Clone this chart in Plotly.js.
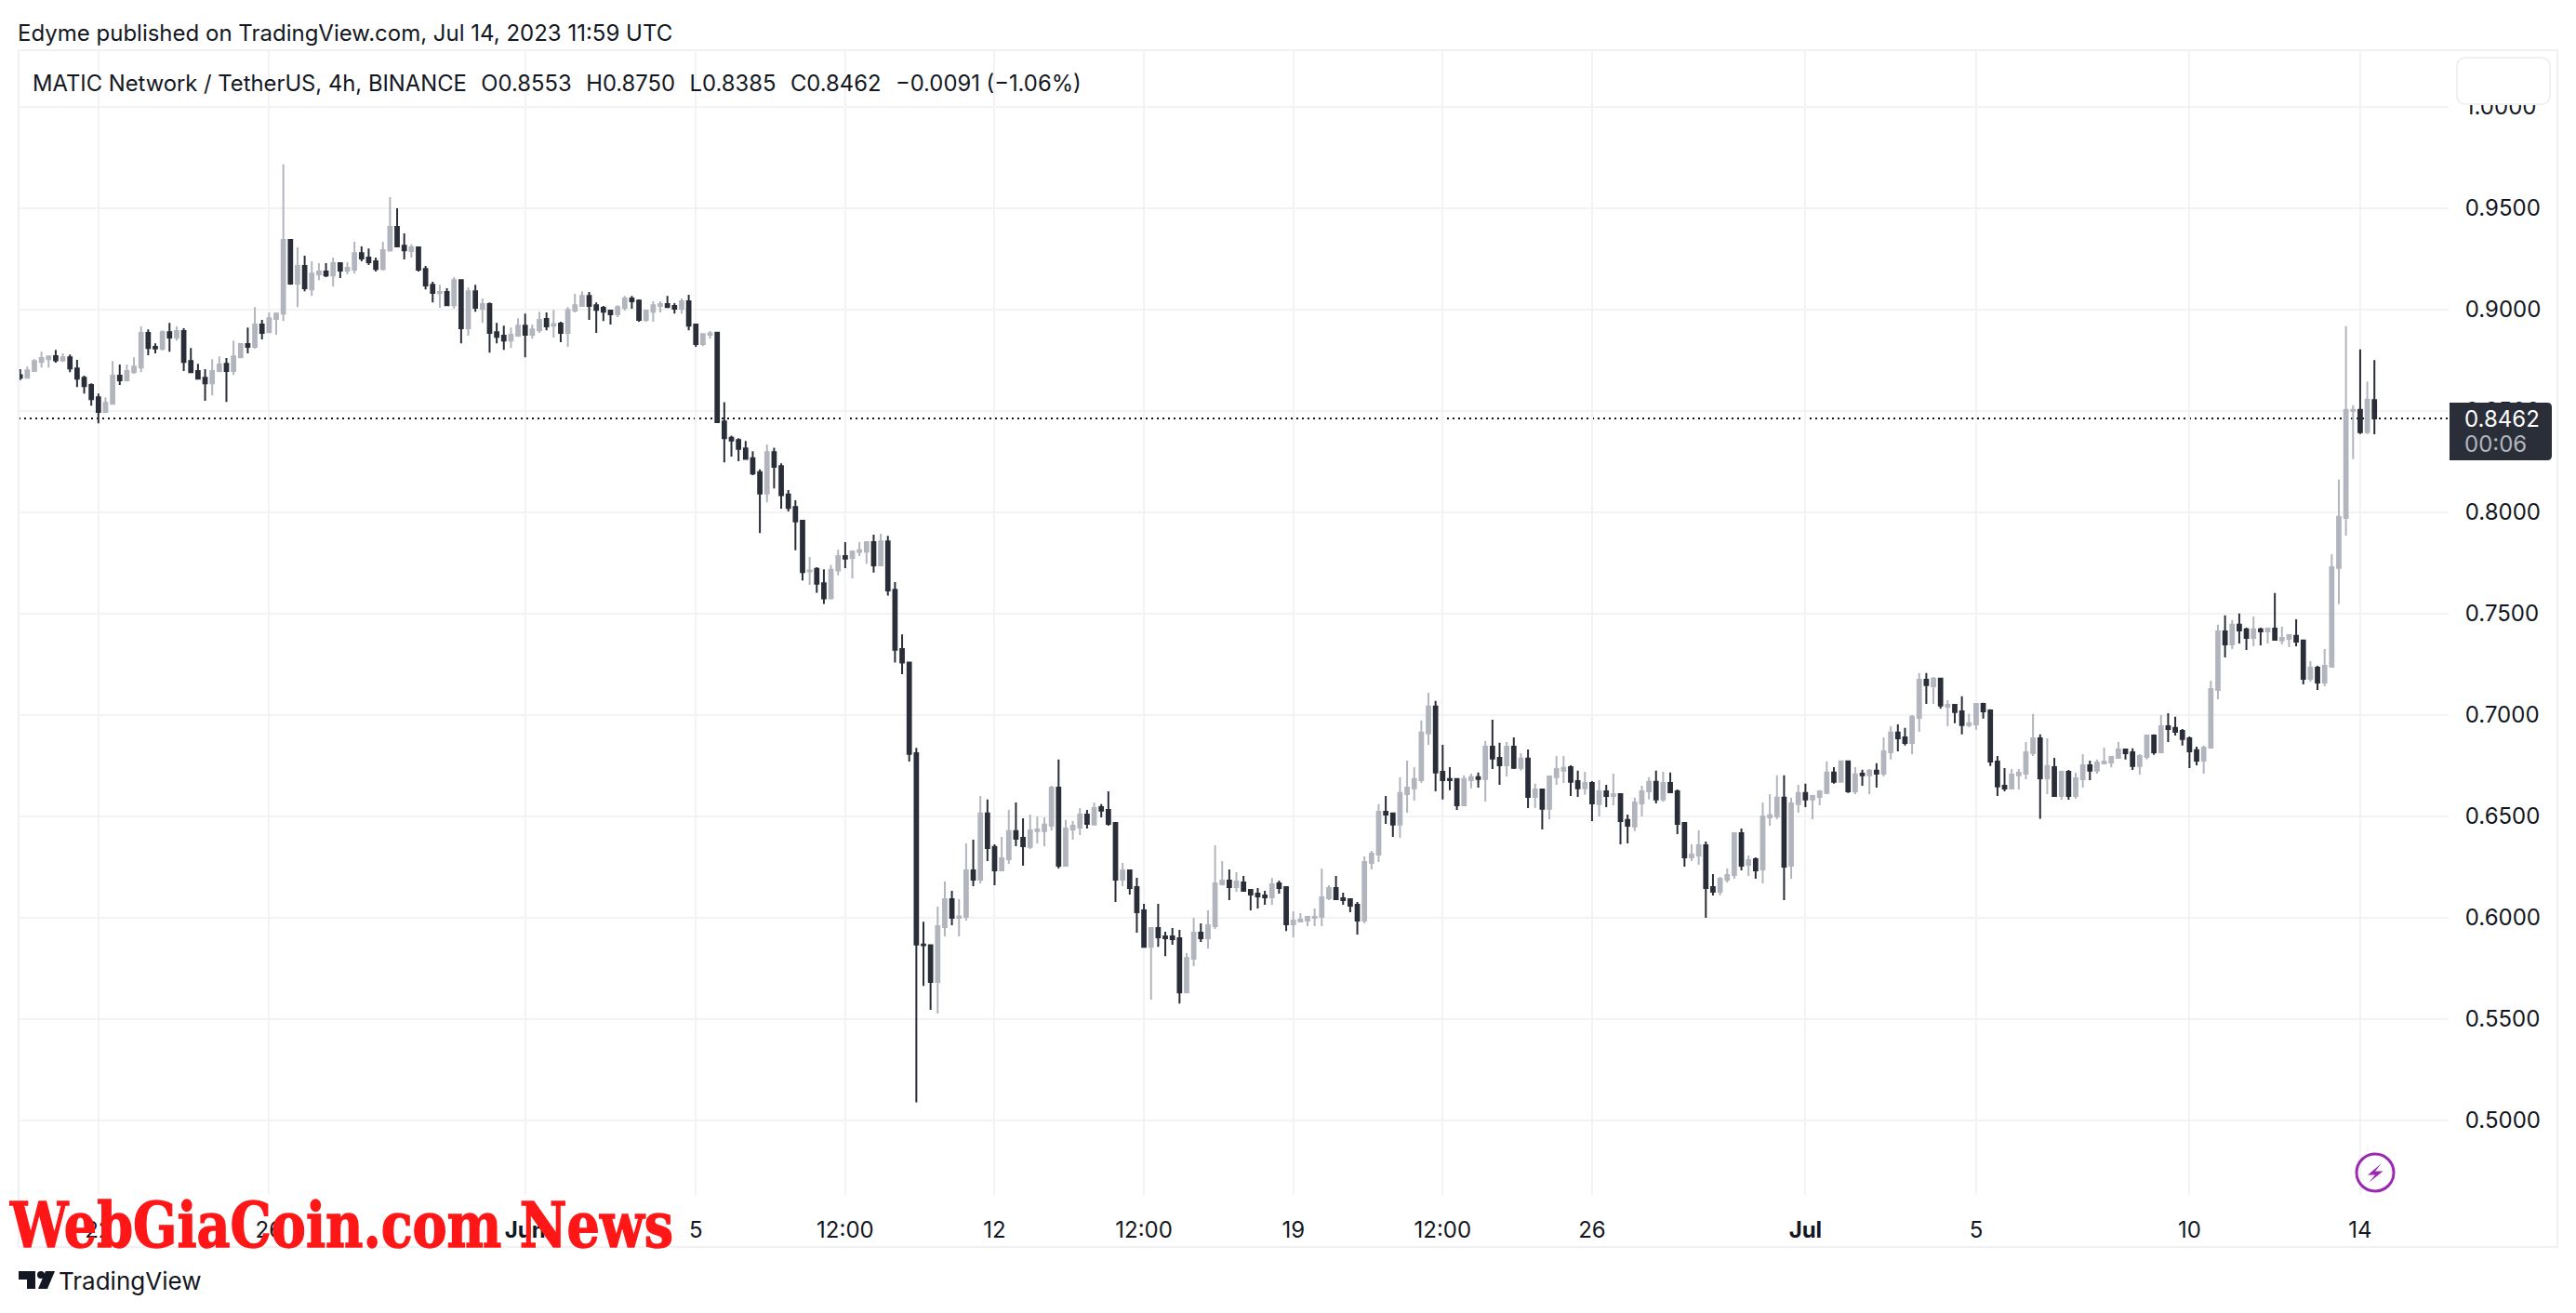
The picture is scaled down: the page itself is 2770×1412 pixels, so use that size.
<!DOCTYPE html>
<html>
<head>
<meta charset="utf-8">
<title>MATIC/USDT 4h</title>
<script src="https://cdn.plot.ly/plotly-3.0.1.min.js"></script>
<style>html,body{margin:0;padding:0;background:#fff}#chart{width:2770px;height:1412px}</style>
</head>
<body>
<div id="chart"></div>
<script>
const opens = [
.8676,.8663,.8696,.8741,.8755,.8770,.8749,.8764,.8709,.8663,
.8627,.8567,.8494,.8535,.8673,.8650,.8691,.8714,.8884,.8816,
.8806,.8888,.8861,.8893,.8746,.8696,.8663,.8636,.8696,.8732,
.8696,.8764,.8829,.8815,.8925,.8888,.8953,.8980,.9343,.9127,
.9214,.9099,.9173,.9187,.9168,.9228,.9191,.9196,.9278,.9256,
.9237,.9200,.9290,.9407,.9314,.9288,.9306,.9200,.9122,.9080,
.9086,.9021,.9145,.8907,.9090,.9003,.9026,.8888,.8870,.8847,
.8870,.8920,.8875,.8897,.8953,.8920,.8930,.8884,.8994,.9017,
.9067,.9021,.9008,.8994,.8976,.9008,.9054,.9044,.8948,.8989,
.9017,.9026,.9017,.9003,.9040,.8925,.8829,.8875,.8885,.8447,
.8367,.8356,.8315,.8266,.8197,.8092,.8296,.8227,.8087,.8026,
.7958,.7708,.7721,.7650,.7575,.7713,.7784,.7774,.7804,.7806,
.7853,.7738,.7856,.7617,.7325,.7259,.6811,.5868,.5865,.5683,
.5954,.6091,.6000,.6004,.6234,.6188,.6514,.6349,.6234,.6289,
.6427,.6394,.6349,.6427,.6427,.6454,.6642,.6257,.6436,.6445,
.6509,.6459,.6546,.6532,.6468,.6188,.6234,.6151,.6036,.5857,
.5949,.5908,.5908,.5899,.5632,.5798,.5926,.5899,.5958,.6165,
.6183,.6151,.6174,.6137,.6119,.6110,.6101,.6170,.6151,.5968,
.5981,.5986,.6000,.6004,.6096,.6147,.6096,.6091,.6064,.5986,
.6270,.6312,.6523,.6514,.6459,.6610,.6638,.6679,.6909,.7042,
.6720,.6684,.6684,.6555,.6679,.6693,.6684,.6844,.6789,.6752,
.6844,.6739,.6785,.6596,.6633,.6537,.6693,.6725,.6743,.6674,
.6638,.6665,.6560,.6624,.6601,.6610,.6482,.6450,.6564,.6624,
.6670,.6583,.6665,.6624,.6468,.6298,.6307,.6358,.6151,.6128,
.6188,.6211,.6417,.6261,.6289,.6238,.6495,.6500,.6592,.6257,
.6560,.6615,.6583,.6596,.6615,.6716,.6670,.6771,.6624,.6711,
.6702,.6725,.6711,.6816,.6913,.6890,.6862,.6986,.7174,.7142,
.7179,.7041,.7050,.7018,.6950,.6954,.7055,.7023,.6770,.6651,
.6637,.6702,.6711,.6812,.6885,.6688,.6743,.6601,.6720,.6601,
.6683,.6752,.6725,.6761,.6766,.6789,.6830,.6816,.6748,.6793,
.6899,.6816,.6945,.6936,.6922,.6885,.6826,.6775,.6839,.7123,
.7412,.7348,.7445,.7422,.7380,.7422,.7412,.7426,.7367,.7376,
.7390,.7367,.7178,.7233,.7160,.7238,.7725,.7972,.8500,.8505,.8395,.8553];
const highs = [
.8706,.8718,.8755,.8792,.8770,.8801,.8783,.8778,.8751,.8673,
.8636,.8585,.8567,.8746,.8728,.8728,.8764,.8916,.8902,.8833,
.8897,.8934,.8916,.8907,.8810,.8732,.8705,.8755,.8769,.8760,
.8847,.8833,.8911,.9012,.8948,.8985,.8985,.9715,.9343,.9306,
.9265,.9237,.9228,.9228,.9256,.9233,.9233,.9334,.9311,.9301,
.9256,.9334,.9554,.9499,.9375,.9321,.9311,.9214,.9136,.9122,
.9104,.9159,.9145,.9109,.9122,.9054,.9035,.8934,.8920,.8911,
.8957,.8980,.8925,.8989,.8985,.8998,.8939,.9012,.9077,.9090,
.9086,.9035,.9017,.8998,.9021,.9067,.9067,.9049,.8998,.9040,
.9040,.9067,.9031,.9054,.9072,.8925,.8879,.8893,.8887,.8543,
.8378,.8365,.8351,.8301,.8211,.8334,.8318,.8241,.8109,.8059,
.7960,.7779,.7729,.7718,.7740,.7815,.7853,.7812,.7853,.7853,
.7889,.7894,.7883,.7655,.7397,.7262,.6838,.5980,.5865,.6055,
.6179,.6133,.6091,.6367,.6385,.6601,.6583,.6362,.6399,.6532,
.6569,.6491,.6509,.6500,.6495,.6651,.6780,.6482,.6477,.6541,
.6532,.6569,.6560,.6624,.6472,.6270,.6234,.6197,.6069,.5954,
.6069,.5931,.5949,.5940,.5825,.6000,.5972,.6036,.6358,.6280,
.6238,.6225,.6206,.6142,.6147,.6133,.6197,.6183,.6156,.6032,
.6023,.6004,.6046,.6243,.6160,.6206,.6124,.6091,.6078,.6303,
.6330,.6560,.6601,.6514,.6693,.6775,.6743,.6973,.7110,.7069,
.6853,.6743,.6684,.6702,.6711,.6716,.6872,.6977,.6863,.6867,
.6890,.6812,.6830,.6661,.6633,.6697,.6798,.6798,.6752,.6725,
.6720,.6674,.6679,.6656,.6711,.6610,.6509,.6592,.6651,.6693,
.6725,.6720,.6716,.6633,.6468,.6362,.6431,.6376,.6215,.6202,
.6243,.6417,.6440,.6307,.6298,.6569,.6610,.6702,.6702,.6592,
.6656,.6661,.6606,.6629,.6771,.6743,.6775,.6775,.6743,.6730,
.6734,.6762,.6890,.6945,.6954,.6936,.7000,.7207,.7207,.7188,
.7179,.7073,.7055,.7092,.7005,.7055,.7060,.7028,.6798,.6738,
.6734,.6734,.6867,.7005,.6904,.6885,.6789,.6725,.6729,.6715,
.6807,.6775,.6780,.6839,.6798,.6867,.6830,.6835,.6807,.6899,
.6904,.7000,.7009,.6991,.6931,.6894,.6844,.6849,.7169,.7445,
.7491,.7468,.7500,.7431,.7486,.7431,.7431,.7601,.7435,.7399,
.7472,.7367,.7266,.7243,.7325,.7793,.8161,.8918,.8528,.8803,.8643,.8750];
const lows = [
.8651,.8663,.8696,.8714,.8714,.8737,.8741,.8691,.8617,.8585,
.8526,.8438,.8494,.8535,.8627,.8645,.8682,.8691,.8774,.8783,
.8797,.8792,.8847,.8696,.8691,.8654,.8549,.8576,.8691,.8544,
.8677,.8764,.8783,.8806,.8852,.8888,.8875,.8943,.9122,.9012,
.9090,.9067,.9145,.9159,.9113,.9155,.9173,.9177,.9237,.9219,
.9187,.9191,.9288,.9306,.9247,.9256,.9187,.9099,.9035,.9008,
.9021,.9003,.8833,.8870,.8989,.8934,.8787,.8833,.8801,.8810,
.8865,.8764,.8856,.8884,.8897,.8861,.8838,.8815,.8985,.9017,
.8948,.8884,.8943,.8925,.8962,.8994,.9003,.8939,.8939,.8939,
.8985,.9012,.8980,.8980,.8897,.8815,.8819,.8856,.8439,.8246,
.8274,.8252,.8263,.8183,.7897,.8048,.8117,.8018,.8004,.7812,
.7663,.7641,.7603,.7548,.7575,.7688,.7724,.7674,.7784,.7746,
.7702,.7738,.7589,.7259,.7201,.6770,.5089,.5664,.5546,.5527,
.5908,.5963,.5908,.5986,.6156,.6170,.6280,.6160,.6234,.6266,
.6353,.6257,.6339,.6367,.6353,.6431,.6243,.6257,.6385,.6408,
.6440,.6459,.6495,.6454,.6078,.6156,.6114,.5926,.5857,.5596,
.5857,.5811,.5867,.5577,.5632,.5761,.5880,.5848,.5945,.6160,
.6087,.6128,.6128,.6036,.6046,.6064,.6064,.6119,.5935,.5903,
.5977,.5958,.5958,.5958,.6087,.6091,.6064,.6027,.5917,.5972,
.6238,.6275,.6463,.6399,.6394,.6518,.6578,.6665,.6853,.6624,
.6583,.6629,.6532,.6555,.6638,.6642,.6573,.6734,.6656,.6697,
.6734,.6725,.6541,.6541,.6436,.6486,.6656,.6665,.6601,.6596,
.6606,.6477,.6500,.6546,.6555,.6362,.6367,.6427,.6500,.6583,
.6564,.6573,.6619,.6413,.6252,.6280,.6261,.6000,.6110,.6110,
.6174,.6192,.6234,.6206,.6192,.6170,.6454,.6486,.6087,.6192,
.6518,.6546,.6486,.6555,.6610,.6661,.6670,.6615,.6610,.6651,
.6610,.6642,.6697,.6780,.6821,.6849,.6807,.6917,.7055,.7055,
.7032,.6945,.6959,.6904,.6940,.6927,.6982,.6748,.6601,.6624,
.6633,.6633,.6683,.6798,.6488,.6610,.6601,.6582,.6582,.6587,
.6642,.6679,.6711,.6757,.6743,.6784,.6780,.6729,.6706,.6780,
.6803,.6812,.6867,.6899,.6849,.6738,.6752,.6711,.6839,.7077,
.7284,.7325,.7353,.7321,.7339,.7344,.7353,.7371,.7348,.7334,
.7339,.7151,.7165,.7123,.7142,.7238,.7546,.7885,.8262,.8386,.8386,.8385];
const closes = [
.8663,.8700,.8746,.8761,.8769,.8749,.8764,.8709,.8659,.8622,
.8558,.8494,.8539,.8673,.8650,.8696,.8718,.8884,.8810,.8807,
.8888,.8861,.8893,.8741,.8691,.8659,.8636,.8696,.8728,.8696,
.8769,.8829,.8815,.8925,.8884,.8957,.8980,.9343,.9127,.9214,
.9104,.9177,.9187,.9168,.9228,.9191,.9205,.9278,.9251,.9233,
.9200,.9292,.9407,.9311,.9291,.9306,.9196,.9118,.9081,.9086,
.9021,.9145,.8907,.9090,.9008,.9026,.8884,.8865,.8847,.8875,
.8920,.8875,.8902,.8948,.8916,.8928,.8884,.8998,.9021,.9067,
.9017,.8998,.8989,.8976,.9012,.9054,.9040,.8948,.8994,.9021,
.9026,.9012,.9003,.9040,.8920,.8829,.8879,.8882,.8444,.8365,
.8354,.8312,.8263,.8191,.8092,.8296,.8224,.8084,.8021,.7955,
.7705,.7713,.7647,.7575,.7716,.7784,.7771,.7806,.7812,.7853,
.7738,.7856,.7614,.7322,.7259,.6808,.5868,.5865,.5683,.5958,
.6091,.6000,.6007,.6234,.6188,.6514,.6344,.6234,.6293,.6427,
.6390,.6353,.6431,.6436,.6459,.6642,.6257,.6440,.6454,.6509,
.6463,.6541,.6528,.6463,.6188,.6234,.6147,.6027,.5857,.5949,
.5903,.5899,.5894,.5632,.5802,.5926,.5899,.5963,.6170,.6183,
.6151,.6179,.6133,.6114,.6105,.6101,.6165,.6147,.5968,.5986,
.5991,.6004,.6004,.6101,.6147,.6091,.6087,.6059,.5986,.6275,
.6316,.6523,.6509,.6459,.6615,.6642,.6684,.6913,.7042,.6716,
.6679,.6679,.6555,.6684,.6693,.6684,.6844,.6785,.6752,.6844,
.6739,.6785,.6596,.6633,.6537,.6697,.6734,.6739,.6670,.6638,
.6665,.6564,.6624,.6601,.6610,.6477,.6454,.6569,.6624,.6670,
.6583,.6665,.6619,.6463,.6298,.6312,.6358,.6147,.6128,.6192,
.6211,.6417,.6257,.6284,.6234,.6500,.6505,.6592,.6252,.6564,
.6615,.6583,.6601,.6624,.6716,.6670,.6771,.6624,.6707,.6702,
.6725,.6711,.6821,.6913,.6885,.6862,.6991,.7174,.7147,.7179,
.7046,.7050,.7014,.6950,.6959,.7055,.7018,.6770,.6647,.6637,
.6706,.6715,.6816,.6885,.6688,.6748,.6601,.6720,.6601,.6688,
.6752,.6725,.6766,.6770,.6793,.6830,.6812,.6748,.6798,.6899,
.6816,.6945,.6931,.6917,.6881,.6821,.6775,.6839,.7128,.7412,
.7348,.7445,.7417,.7380,.7422,.7412,.7426,.7371,.7380,.7394,
.7362,.7178,.7233,.7160,.7243,.7729,.7977,.8505,.8505,.8395,.8555,.8462];

const firstBar = Date.UTC(2023, 4, 20, 4);
const barMs = 4 * 3600 * 1000;
const tickDates = ['2023-05-22','2023-05-26','2023-06-01','2023-06-05','2023-06-08 12:00','2023-06-12','2023-06-15 12:00','2023-06-19','2023-06-22 12:00','2023-06-26','2023-07-01','2023-07-05','2023-07-10','2023-07-14'];
const tickLabels = ['22','26','<b>Jun</b>','5','12:00','12','12:00','19','12:00','26','<b>Jul</b>','5','10','14'];
const priceTicks = [0.5,0.55,0.6,0.65,0.7,0.75,0.8,0.85,0.9,0.95,1.0];
const priceLabels = ['0.5000','0.5500','0.6000','0.6500','0.7000','0.7500','0.8000','0.8500','0.9000','0.9500','1.0000'];

const GREY = '#b2b5be', DARK = '#2a2e39', INK = '#131722', RULE = '#f3f3f6', FRAME = '#f0f0f5';
const FONT = 'Inter, "Noto Sans", sans-serif';
const W = 2770, H = 1412, L = 20, R = 2633, T = 54, B = 1285;
const px = x => (x - L) / (R - L);
const py = y => (B - y) / (B - T);
const iso = ms => new Date(ms).toISOString().replace('T', ' ').replace('Z', '');
const times = opens.map((_, i) => iso(firstBar + i * barMs));

const shapeP = (d, extra) => Object.assign({type: 'path', xref: 'paper', yref: 'paper', layer: 'above', path: d}, extra);
const P = pts => pts.map((p, i) => (i ? 'L' : 'M') + px(p[0]) + ',' + py(p[1])).join(' ') + ' Z';
function rrect(x0, y0, x1, y1, rl, rr) {
  return 'M' + px(x0 + rl) + ',' + py(y0) +
    ' L' + px(x1 - rr) + ',' + py(y0) +
    ' Q' + px(x1) + ',' + py(y0) + ' ' + px(x1) + ',' + py(y0 + rr) +
    ' L' + px(x1) + ',' + py(y1 - rr) +
    ' Q' + px(x1) + ',' + py(y1) + ' ' + px(x1 - rr) + ',' + py(y1) +
    ' L' + px(x0 + rl) + ',' + py(y1) +
    ' Q' + px(x0) + ',' + py(y1) + ' ' + px(x0) + ',' + py(y1 - rl) +
    ' L' + px(x0) + ',' + py(y0 + rl) +
    ' Q' + px(x0) + ',' + py(y0) + ' ' + px(x0 + rl) + ',' + py(y0) + ' Z';
}
const note = (text, x, y, size, color, extra) => Object.assign({
  text, x: px(x), y: py(y), xref: 'paper', yref: 'paper', xanchor: 'left', yanchor: 'middle',
  showarrow: false, align: 'left', font: {family: FONT, size, color}
}, extra || {});

const last = closes[closes.length - 1];

const trace = {
  type: 'candlestick', x: times, open: opens, high: highs, low: lows, close: closes,
  whiskerwidth: 0, hoverinfo: 'skip',
  increasing: {line: {color: GREY, width: 2}, fillcolor: GREY},
  decreasing: {line: {color: DARK, width: 2}, fillcolor: DARK}
};

const layout = {
  width: W, height: H, showlegend: false, paper_bgcolor: '#fff', plot_bgcolor: '#fff',
  margin: {l: L, r: W - R, t: T, b: H - B, pad: 0},
  font: {family: FONT, color: INK},
  xaxis: {
    type: 'date', rangeslider: {visible: false},
    range: [iso(firstBar - 0.22 * barMs), iso(firstBar + 341.43 * barMs)],
    tickmode: 'array', tickvals: tickDates, ticktext: tickLabels,
    showgrid: true, gridcolor: RULE, gridwidth: 2, zeroline: false, showline: false,
    ticks: 'outside', ticklen: 16, tickcolor: 'rgba(0,0,0,0)', tickangle: 0,
    tickfont: {family: FONT, size: 24, color: INK}
  },
  yaxis: {
    side: 'right', range: [0.46332, 1.02784], tickmode: 'array', tickvals: priceTicks, ticktext: priceLabels,
    showgrid: true, gridcolor: RULE, gridwidth: 2, zeroline: false, showline: false,
    ticks: 'outside', ticklen: 12, tickcolor: 'rgba(0,0,0,0)',
    tickfont: {family: FONT, size: 24, color: INK}
  },
  shapes: [
    {type: 'line', xref: 'paper', yref: 'y', x0: 0, x1: 1, y0: last, y1: last, layer: 'below',
     line: {color: INK, width: 2, dash: '2px,4px'}},
    {type: 'rect', xref: 'paper', yref: 'paper', x0: px(20), x1: px(2750), y0: py(54), y1: py(1341), layer: 'above',
     line: {color: FRAME, width: 2}, fillcolor: 'rgba(0,0,0,0)'},
    shapeP(rrect(2642, 62, 2742, 112, 10, 10), {fillcolor: '#ffffff', line: {color: FRAME, width: 2}}),
    shapeP(rrect(2634, 433, 2744, 495, 0, 5), {fillcolor: DARK, line: {width: 0}}),
    {type: 'circle', xref: 'paper', yref: 'paper', x0: px(2534), x1: px(2574), y0: py(1241), y1: py(1281), layer: 'above',
     line: {color: '#9c27b0', width: 3}, fillcolor: 'rgba(0,0,0,0)'},
    shapeP(P([[2561, 1251], [2546, 1263.5], [2554, 1263.5], [2547.5, 1271.5], [2562.5, 1259.5], [2554, 1259.5]]),
      {fillcolor: '#9c27b0', line: {width: 0}}),
    shapeP(P([[20, 1367], [38, 1367], [38, 1386], [29, 1386], [29, 1376], [20, 1376]]), {fillcolor: INK, line: {width: 0}}),
    {type: 'circle', xref: 'paper', yref: 'paper', x0: px(40), x1: px(48), y0: py(1367), y1: py(1375), layer: 'above',
     line: {width: 0}, fillcolor: INK},
    shapeP(P([[49, 1367], [59, 1367], [51, 1386], [41, 1386]]), {fillcolor: INK, line: {width: 0}})
  ],
  annotations: [
    note('Edyme published on TradingView.com, Jul 14, 2023 11:59 UTC', 17, 36, 24, INK),
    note('MATIC Network / TetherUS, 4h, BINANCE\u00a0\u00a0\u200aO0.8553\u00a0\u00a0\u200aH0.8750\u00a0\u00a0\u200aL0.8385\u00a0\u00a0\u200aC0.8462\u00a0\u00a0\u200a\u22120.0091 (\u22121.06%)', 33, 89, 23.8, INK),
    note('0.8462', 2648, 450, 24, '#ffffff'),
    note('00:06', 2648, 477, 24, GREY),
    note('TradingView', 61, 1377, 26, INK),
    note('WebGiaCoin.com News', 8, 1317, 68, '#ff1717', {font: {family: '"DejaVu Serif", serif', size: 68, weight: 'bold', color: '#ff1717'}})
  ]
};

Plotly.newPlot('chart', [trace], layout, {displayModeBar: false, staticPlot: true}).then(() => {
  const t = [...document.querySelectorAll('.annotation-text')].find(e => e.textContent.startsWith('WebGiaCoin'));
  if (t) {
    t.setAttribute('textLength', 713);
    t.setAttribute('lengthAdjust', 'spacingAndGlyphs');
    t.style.stroke = '#ff1717';
    t.style.strokeWidth = '1.5px';
  }
});
</script>
</body>
</html>
